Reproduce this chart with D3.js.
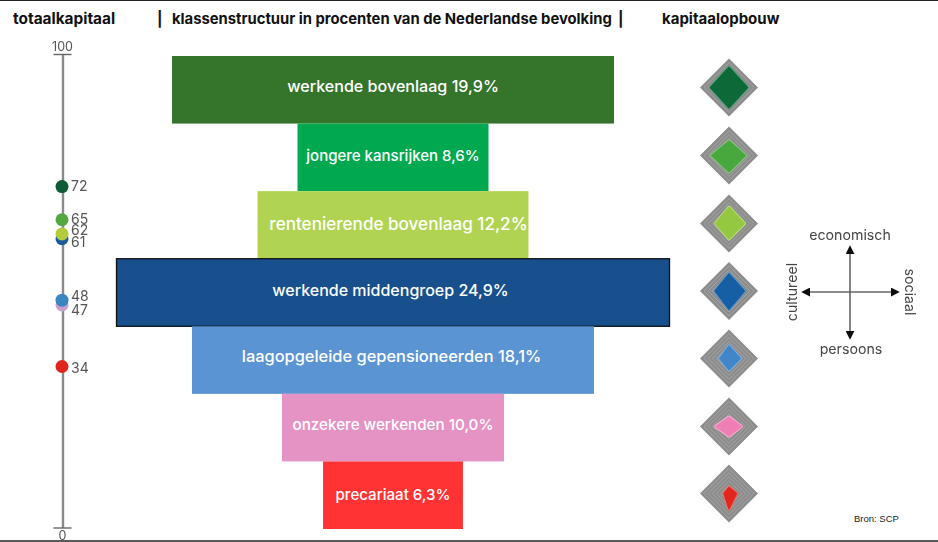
<!DOCTYPE html>
<html><head><meta charset="utf-8">
<script src="https://cdn.jsdelivr.net/npm/d3@7"></script>
<style>
html,body{margin:0;padding:0;background:#fff}
svg{display:block}
text{font-family:Inter,"Open Sans",sans-serif}
</style></head><body>
<svg id="c" width="938" height="542"></svg>
<script>
const classes=["werkende bovenlaag","jongere kansrijken","rentenierende bovenlaag","werkende middengroep","laagopgeleide gepensioneerden","onzekere werkenden","precariaat"];
const shares=[19.9,8.6,12.2,24.9,18.1,10.0,6.3];
const shareLabels=["19,9%","8,6%","12,2%","24,9%","18,1%","10,0%","6,3%"];
const totalCapital=[72,65,62,61,48,47,34];
const barColors=["#34742b","#00a94f","#b0d452","#17508c","#5b94d3","#e593c5","#ff3333"];
const dotColors=["#0a5c36","#55a83f","#b3cc3e","#1a5a9c","#3a85c2","#c9a0cc","#e0281f"];
const shapeColors=["#0b6b38","#4aa83e","#93c840","#125ea5","#3f86c8","#ee7fb5","#e1261f"];
const economisch=[70,50,56,59,43,32,21];
const sociaal=[64,57,53,53,39,43,26];
const persoons=[70,56,53,63,39,32,53];
const cultureel=[64,60,46,48,32,46,17];
const axisNames=["economisch","sociaal","persoons","cultureel"];
const titles=["totaalkapitaal","|","klassenstructuur in procenten van de Nederlandse bevolking","|","kapitaalopbouw"];

const svg=d3.select("#c");
const defs=svg.append("defs");
defs.append("filter").attr("id","soft").append("feGaussianBlur").attr("stdDeviation",0.45);
const mk=defs.append("marker").attr("id","arr").attr("viewBox","0 0 10 10").attr("refX",8).attr("refY",5)
 .attr("markerWidth",9).attr("markerHeight",9).attr("markerUnits","userSpaceOnUse").attr("orient","auto");
mk.append("path").attr("d","M0,0L10,5L0,10Z").attr("fill","#111");

// frame rules
svg.append("line").attr("x1",0).attr("x2",938).attr("y1",0.5).attr("y2",0.5).attr("stroke","#222").attr("stroke-width",1.2);
svg.append("line").attr("x1",0).attr("x2",938).attr("y1",541).attr("y2",541).attr("stroke","#222").attr("stroke-width",1.4);

// headings
const titleX=[13,157,172,618,662];
const titleSize=[15.4,14.8,14.8,14.8,15];
svg.selectAll("text.h").data(titles).join("text").attr("class","h")
 .attr("x",(d,i)=>titleX[i]).attr("y",24).attr("font-size",(d,i)=>titleSize[i]).attr("font-weight",700).attr("fill","#111").text(d=>d);

// total capital axis
const yCap=d3.scaleLinear().domain([0,100]).range([527.5,54]);
const capG=svg.append("g").attr("filter","url(#soft)");
const axis=d3.axisLeft(yCap).tickValues([0,100]).tickSize(0).tickFormat(d3.format("d"));
const ax=capG.append("g").attr("transform","translate(62.5,0)").call(axis);
ax.select(".domain").attr("stroke","#8a8a8a").attr("stroke-width",2.4);
ax.selectAll(".tick line").attr("x1",-9).attr("x2",9).attr("stroke","#666").attr("stroke-width",1.4);
ax.selectAll(".tick text").attr("x",0).attr("text-anchor","middle").attr("font-size",12.5).attr("font-family","Open Sans").attr("fill","#555")
 .attr("dy",0).attr("y",d=>d===100?-4:12);
const dotOrder=[0,1,3,2,5,4,6];
capG.selectAll("circle.d").data(dotOrder).join("circle").attr("class","d")
 .attr("cx",62).attr("cy",i=>yCap(totalCapital[i])).attr("r",6.5).attr("fill",i=>dotColors[i]);
const labelNudge=[-1,-1,-3.5,3,-4,5,1.5];
capG.selectAll("text.v").data(totalCapital).join("text").attr("class","v")
 .attr("x",71).attr("y",(d,i)=>yCap(d)+labelNudge[i]+5).attr("font-size",14).attr("font-family","Open Sans").attr("fill","#555").text(d=>d);

// funnel bars
const yBand=d3.scaleBand().domain(classes).range([56,529]);
const xW=d3.scaleLinear().domain([0,24.9]).range([0,553]);
const cx=393;
svg.selectAll("rect.b").data(classes).join("rect").attr("class","b")
 .attr("x",(d,i)=>cx-xW(shares[i])/2).attr("y",d=>yBand(d)).attr("width",(d,i)=>xW(shares[i])).attr("height",yBand.bandwidth())
 .attr("fill",(d,i)=>barColors[i]).attr("stroke",(d,i)=>i===3?"#111":"none").attr("stroke-width",1.3);
const labelSize=[16.1,15,17.1,16,16.4,15.2,15.1];
const labelDx=[0,0,5.5,-2.5,-1.5,0,0];
const labelDy=[0,1,3,1,-1,0,2];
svg.selectAll("text.l").data(classes).join("text").attr("class","l")
 .attr("x",(d,i)=>cx+labelDx[i]).attr("y",(d,i)=>yBand(d)+yBand.bandwidth()/2+2.5+labelDy[i]).attr("text-anchor","middle")
 .attr("font-size",(d,i)=>labelSize[i]).attr("font-weight",500).attr("fill","#fff").text((d,i)=>d+" "+shareLabels[i]);

// capital diamonds
const r=d3.scaleLinear().domain([0,100]).range([0,29]);
const diamond=v=>`M0,${-r(v[0])}L${r(v[1])},0L0,${r(v[2])}L${-r(v[3])},0Z`;
const centerY=[87.5,155.5,223.5,291,358.5,426.5,493.5];
const dg=svg.selectAll("g.dm").data(classes).join("g").attr("class","dm")
 .attr("transform",(d,i)=>`translate(729,${centerY[i]})`).attr("filter","url(#soft)");
dg.append("path").attr("d",diamond([100,100,100,100])).attr("fill","#8c8c8c");
dg.each(function(){
 const g=d3.select(this);
 [86,72,58,44,30].forEach(v=>g.append("path").attr("d",diamond([v,v,v,v])).attr("fill","none").attr("stroke","#b0b0b0").attr("stroke-width",0.7));
});
const shape=(d,i)=>diamond([economisch[i],sociaal[i],persoons[i],cultureel[i]]);
dg.append("path").attr("d",shape).attr("fill",(d,i)=>d3.interpolateRgb(shapeColors[i],"#fff")(0.35))
 .attr("stroke",(d,i)=>d3.interpolateRgb(shapeColors[i],"#fff")(0.35)).attr("stroke-width",3.4).attr("stroke-linejoin","round");
dg.append("path").attr("d",shape).attr("fill",(d,i)=>shapeColors[i])
 .attr("stroke",(d,i)=>shapeColors[i]).attr("stroke-width",1.4).attr("stroke-linejoin","round");

// compass legend
const kx=850,ky=292;
const comp=svg.append("g").attr("filter","url(#soft)");
const arm=[[0,-45],[48,0],[0,46],[-47,0]];
comp.selectAll("line").data(axisNames).join("line")
 .attr("x1",kx).attr("y1",ky).attr("x2",(d,i)=>kx+arm[i][0]).attr("y2",(d,i)=>ky+arm[i][1])
 .attr("stroke","#666").attr("stroke-width",1.6).attr("marker-end","url(#arr)");
const compText=[[850,236,0],[909,292,90],[851,350,0],[793,292,-90]];
comp.selectAll("text").data(axisNames).join("text")
 .attr("text-anchor","middle").attr("dominant-baseline","middle").attr("font-size",14.2).attr("font-family","Open Sans").attr("fill","#444")
 .attr("transform",(d,i)=>`translate(${compText[i][0]},${compText[i][1]}) rotate(${compText[i][2]})`).text(d=>d);

svg.append("text").attr("x",854).attr("y",521.5).attr("font-size",9.5).attr("fill","#222").style("font-family","Liberation Sans").text("Bron: SCP");
</script>
</body></html>
